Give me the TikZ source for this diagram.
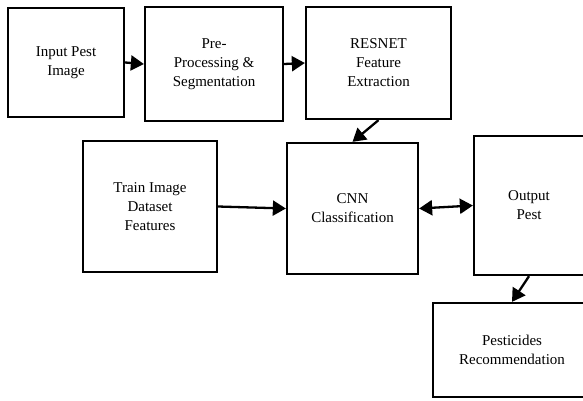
\documentclass[tikz,border=0pt]{standalone}
\usepackage{fontspec}
\setmainfont{Liberation Serif}
\usetikzlibrary{arrows.meta,positioning}
\tikzstyle{block} = [draw,line width=2.3pt,rectangle,align=center,inner sep=2pt,font=\fontsize{15}{19}\selectfont]
\tikzstyle{flow} = [line width=2.3pt,-{Triangle[length=13pt,width=15pt]}]
\tikzstyle{twoway} = [line width=2.3pt,{Triangle[length=13pt,width=15pt]}-{Triangle[length=13pt,width=15pt]}]

\begin{document}
\begin{tikzpicture}[x=1pt,y=-1pt]
      \useasboundingbox (0,0) rectangle (583,400);
      \clip (0,0) rectangle (583,400);
      % top row
      \node[block,minimum width=116pt,minimum height=109pt] (inp) at (66,62.5) {Input Pest\\Image};
      \node[block,minimum width=138pt,minimum height=114pt] (pre) at (214,64) {Pre-\\Processing \&\\Segmentation};
      \node[block,minimum width=145pt,minimum height=112pt] (res) at (378.5,63) {RESNET\\Feature\\Extraction};
      % middle row
      \node[block,minimum width=134pt,minimum height=131pt] (train) at (150,206.5) {Train Image\\Dataset\\Features};
      \node[block,minimum width=131pt,minimum height=131pt] (cnn) at (352.5,208.5) {CNN\\Classification};
      \node[block,minimum width=110pt,minimum height=139pt] (out) at (529,205.5) {Output\\Pest};
      % bottom
      \node[block,minimum width=158pt,minimum height=94pt] (pes) at (512,350) {Pesticides\\Recommendation};
      \draw[flow] (inp.east) -- (pre.west);
      \draw[flow] (pre.east) -- (res.west);
      \draw[flow] (res.south) -- (cnn.north);
      \draw[flow] (train.east) -- (cnn.west);
      \draw[twoway] (cnn.east) -- (out.west);
      \draw[flow] (out.south) -- (pes.north);
    \end{tikzpicture}
\end{document}
